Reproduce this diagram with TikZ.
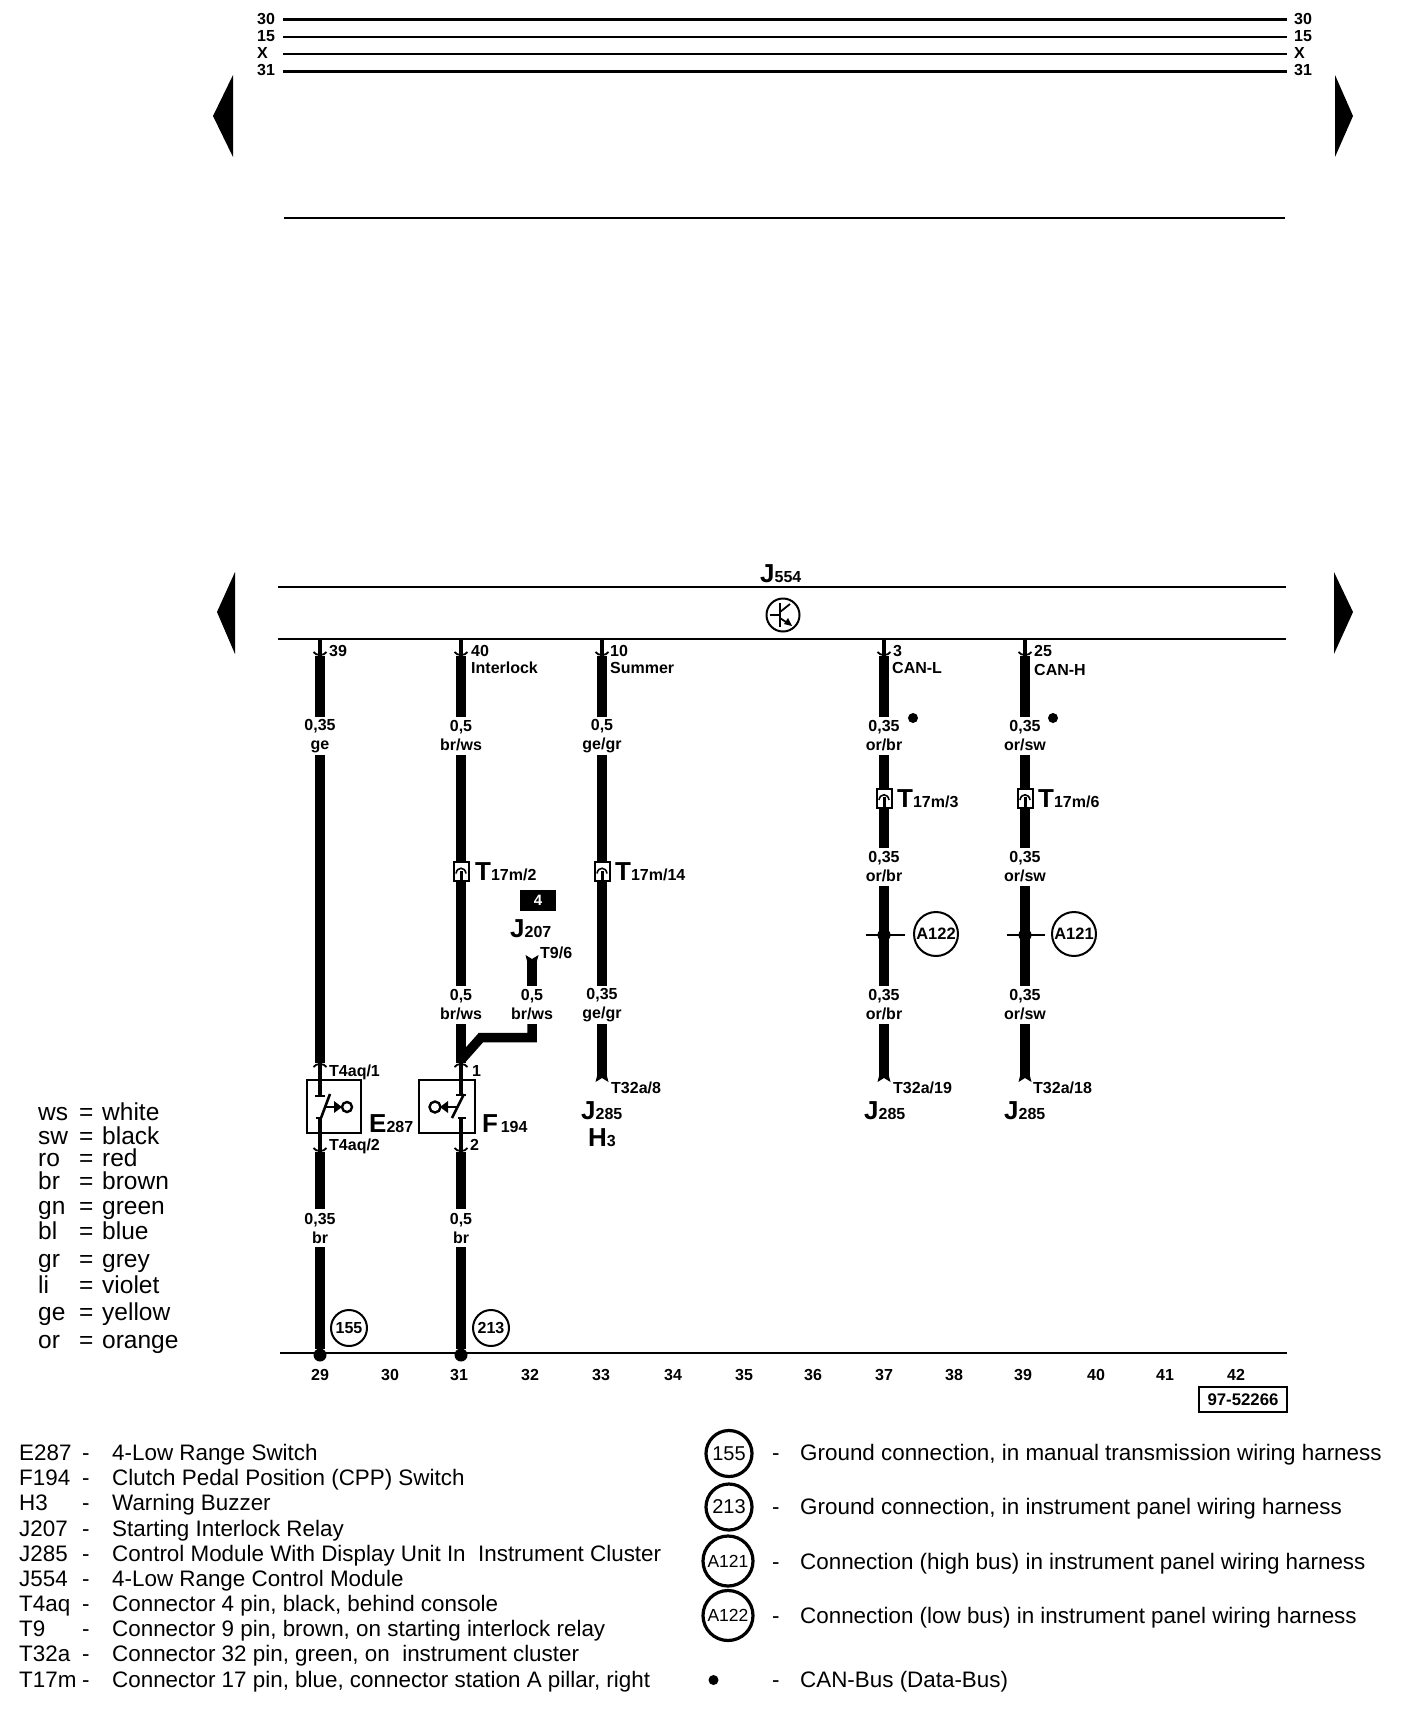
\documentclass[tikz,border=0pt]{standalone}
\usepackage{fontspec}
\setmainfont{Liberation Sans}
\newcommand{\desig}[2]{{\bfseries\fontsize{26}{26}\selectfont #1\fontsize{16}{16}\selectfont #2}}
\newcommand{\pinrod}[3]{%
    \draw[rod] (#1,#2) -- (#1,#3);
}
\newcommand{\cupdown}[2]{%
    \draw[line width=1.8pt] (#1-6.5,#2-4) .. controls (#1-4,#2) and (#1+4,#2) .. (#1+6.5,#2-4);
}
\newcommand{\cupup}[2]{%
    \draw[line width=1.8pt] (#1-6.5,#2+4) .. controls (#1-4,#2) and (#1+4,#2) .. (#1+6.5,#2+4);
}
\newcommand{\wirenotch}[3]{%
    \fill (#1-6.5,#2) -- (#1,#2+4*#3) -- (#1+6.5,#2) -- (#1+4.7,#2+7*#3) -- (#1-4.7,#2+7*#3) -- cycle;
}
\newcommand{\plugmark}[1]{%
    \draw[line width=3pt] (#1.south) -- ([yshift=1pt]#1.center);
    \draw[line width=1.6pt] ([xshift=-5pt,yshift=-2pt]#1.center) .. controls ([xshift=-4pt,yshift=5pt]#1.center) and ([xshift=4pt,yshift=5pt]#1.center) .. ([xshift=5pt,yshift=-2pt]#1.center);
}
\tikzset{
    wire/.style={line width=9.5pt},
    rod/.style={line width=3.6pt},
    rail/.style={line width=2.7pt},
    gauge/.style={inner sep=0,outer sep=0,minimum height=38pt,align=center,
        font=\bfseries\fontsize{16}{19}\selectfont},
    small/.style={inner sep=0,anchor=base west,font=\bfseries\fontsize{16}{16}\selectfont},
    desigtext/.style={inner sep=0,anchor=base west},
    plug/.style={draw,line width=2pt,fill=white,inner sep=0,outer sep=0,minimum width=15pt,minimum height=19pt},
    swbox/.style={draw,line width=2pt,inner sep=0,outer sep=0,minimum width=54pt,minimum height=53pt},
    ring/.style={circle,draw,line width=2pt,inner sep=0,outer sep=0,minimum size=36pt,
        font=\bfseries\fontsize{16}{16}\selectfont},
    bigring/.style={ring,minimum size=44pt},
    dot/.style={circle,fill,inner sep=0,outer sep=0,minimum size=13pt},
    legend/.style={inner sep=0,anchor=base west,font=\fontsize{22.4}{22.4}\selectfont},
    colkey/.style={inner sep=0,anchor=base west,font=\fontsize{24.5}{24.5}\selectfont},
    legring/.style={circle,draw,line width=3.2pt,inner sep=0,outer sep=0,minimum size=46pt,
        font=\fontsize{20}{20}\selectfont},
}
\begin{document}
\begin{tikzpicture}[x=1pt,y=-1pt]
    \useasboundingbox (0,0) rectangle (1408,1716);
    % supply rails
    \foreach \y/\w/\n in {19.5/3/30,36.7/2/15,53.7/2/X,71/3/31} {
        \node[small] (rl\n) at (257,\y+4.5) {\n};
        \node[small] (rr\n) at (1294,\y+4.5) {\n};
        \draw[line width=\w pt] (283,\y) -- (1287,\y);
    }
    \draw[line width=2pt] (284,218) -- (1285,218);
    \fill (233,75) -- (213,116) -- (233,157) -- cycle;
    \fill (1335,75) -- (1353,116) -- (1335,157) -- cycle;
    % module J554
    \node[desigtext] (J554) at (760,582) {\desig{J}{554}};
    \draw[rail] (278,587) -- (1286,587);
    \draw[rail] (278,639) -- (1286,639);
    \fill (235,572) -- (217,612) -- (235,654) -- cycle;
    \fill (1334,572) -- (1353,612) -- (1334,654) -- cycle;
    \node[circle,draw,line width=2pt,minimum size=33pt,inner sep=0] (modsym) at (783,615) {};
    \draw[line width=1.8pt] (780,603) -- (780,627);
    \draw[line width=1.8pt] (770,615) -- (780,615);
    \draw[line width=1.8pt] (780,612) -- (790,604);
    \draw[line width=1.8pt] (780,618) -- (789,624);
    \fill (792,626) -- (784,624) -- (788,618) -- cycle;
    % ground rail
    \draw[rail] (280,1353) -- (1287,1353);
    \foreach \x/\n in {320/29,390/30,459/31,530/32,601/33,673/34,744/35,813/36,884/37,954/38,1023/39,1096/40,1165/41,1236/42} {
        \node[inner sep=0,font=\bfseries\fontsize{16}{16}\selectfont] (n\n) at (\x,1375) {\n};
    }
    \node[draw,line width=2pt,inner sep=0,minimum width=88pt,minimum height=25pt,
        font=\bfseries\fontsize{16.8}{16.8}\selectfont] (refno) at (1243,1399.5) {97-52266};

    % wire 29
    \pinrod{320}{639}{656}
    \cupdown{320}{656}
    \coordinate (w29top) at (320,656);
    \node[gauge] (g29a) at (320,736) {0,35\\ge};
    \coordinate (sw29top) at (320,1063);
    \draw[wire] (w29top) -- (g29a);
    \draw[wire] (g29a) -- (sw29top);
    \cupup{320}{1063}
    \node[swbox] (E287box) at (333.5,1106.5) {};
    \pinrod{320}{1063}{1096}
    \draw[line width=2pt] (315,1096) -- (325,1096);
    \draw[line width=2.6pt] (330,1094) -- (321,1118);
    \draw[line width=2pt] (316,1118) -- (322,1118);
    \pinrod{320}{1118}{1152}
    \cupdown{320}{1152}
    \draw[line width=2.6pt] (326,1107) -- (336,1107);
    \fill (342,1107) -- (334,1101) -- (334,1113) -- cycle;
    \node[circle,draw,line width=2.4pt,minimum size=10pt,inner sep=0] (E287cam) at (347,1107) {};
    \coordinate (sw29bot) at (320,1152);
    \node[gauge] (g29b) at (320,1228) {0,35\\br};
    \node[dot] (gnd29) at (320,1355) {};
    \draw[wire] (sw29bot) -- (g29b);
    \draw[wire] (g29b) -- (gnd29);
    \node[small] (p39) at (329,656) {39};
    \node[small] (t4a) at (329,1076) {T4aq/1};
    \node[small] (t4b) at (329,1150) {T4aq/2};
    \node[desigtext] (E287) at (369,1132) {\desig{E}{287}};
    \node[ring] (r155) at (349,1328) {155};

    % wire 31
    \pinrod{461}{639}{656}
    \cupdown{461}{656}
    \coordinate (w31top) at (461,656);
    \node[gauge] (g31a) at (461,736) {0,5\\br/ws};
    \node[plug] (c31) at (461,871.5) {};
    \node[gauge] (g31b) at (461,1005) {0,5\\br/ws};
    \coordinate (sw31top) at (461,1063);
    \draw[wire] (w31top) -- (g31a);
    \draw[wire] (g31a) -- (c31);
    \draw[wire] (c31) -- (g31b);
    \draw[wire] (g31b) -- (sw31top);
    \plugmark{c31}
    \cupup{461}{1063}
    \node[swbox,minimum width=56pt] (F194box) at (447,1106.5) {};
    \pinrod{461}{1063}{1095}
    \draw[line width=2pt] (456,1095) -- (466,1095);
    \draw[line width=2.6pt] (464,1094) -- (452,1118);
    \draw[line width=2pt] (458,1118) -- (466,1118);
    \pinrod{461}{1118}{1152}
    \cupdown{461}{1152}
    \draw[line width=2.6pt] (457,1107) -- (446,1107);
    \fill (440,1107) -- (448,1101) -- (448,1113) -- cycle;
    \node[circle,draw,line width=2.4pt,minimum size=11pt,inner sep=0] (F194cam) at (435,1107) {};
    \coordinate (sw31bot) at (461,1152);
    \node[gauge] (g31c) at (461,1228) {0,5\\br};
    \node[dot] (gnd31) at (461,1355) {};
    \draw[wire] (sw31bot) -- (g31c);
    \draw[wire] (g31c) -- (gnd31);
    \node[small] (p40) at (471,656) {40};
    \node[small] (lint) at (471,673) {Interlock};
    \node[desigtext] (tc31) at (475,880) {\desig{T}{17m/2}};
    \node[small] (s1) at (472,1076) {1};
    \node[small] (s2) at (470,1150) {2};
    \node[desigtext] (F194) at (482,1132) {\desig{F}{\,194}};
    \node[ring] (r213) at (491,1328) {213};

    % branch to J207
    \node[fill,inner sep=0,minimum width=36pt,minimum height=21pt,text=white,
        font=\bfseries\fontsize{15}{15}\selectfont] (relayno) at (538,900.5) {4};
    \node[desigtext] (J207) at (510,937) {\desig{J}{207}};
    \wirenotch{532}{955}{1}
    \coordinate (stub) at (532,961);
    \node[gauge] (g32) at (532,1005) {0,5\\br/ws};
    \draw[wire] (stub) -- (g32);
    \coordinate (bend) at (532,1037.5);
    \coordinate (bendb) at (481,1037.5);
    \coordinate (bendc) at (461,1060);
    \draw[wire,line join=miter] (g32) -- (bend) -- (bendb) -- (bendc);
    \node[small] (t96) at (540,958.5) {T9/6};

    % wire 33
    \pinrod{602}{639}{656}
    \cupdown{602}{656}
    \coordinate (w33top) at (602,656);
    \node[gauge] (g33a) at (602,736) {0,5\\ge/gr};
    \node[plug] (c33) at (602,871.5) {};
    \node[gauge] (g33b) at (602,1005) {0,35\\ge/gr};
    \coordinate (w33bot) at (602,1076);
    \draw[wire] (w33top) -- (g33a);
    \draw[wire] (g33a) -- (c33);
    \draw[wire] (c33) -- (g33b);
    \draw[wire] (g33b) -- (w33bot);
    \plugmark{c33}
    \wirenotch{602}{1082}{-1}
    \node[small] (p10) at (610,656) {10};
    \node[small] (lsum) at (610,673) {Summer};
    \node[desigtext] (tc33) at (615,880) {\desig{T}{17m/14}};
    \node[small] (t8) at (611,1093) {T32a/8};
    \node[desigtext] (J285a) at (581,1119) {\desig{J}{285}};
    \node[desigtext] (H3) at (588,1146) {\desig{H}{3}};

    % wire 37
    \pinrod{884}{639}{656}
    \cupdown{884}{656}
    \coordinate (w37top) at (884,656);
    \node[gauge] (g37a) at (884,736) {0,35\\or/br};
    \node[plug] (c37) at (884,798) {};
    \node[gauge] (g37b) at (884,867) {0,35\\or/br};
    \node[gauge] (g37c) at (884,1005) {0,35\\or/br};
    \node[dot] (j37) at (884,935) {};
    \coordinate (w37bot) at (884,1076);
    \draw[wire] (w37top) -- (g37a);
    \draw[wire] (g37a) -- (c37);
    \draw[wire] (c37) -- (g37b);
    \draw[wire] (g37b) -- (g37c);
    \draw[wire] (g37c) -- (w37bot);
    \plugmark{c37}
    \wirenotch{884}{1082}{-1}
    \draw[line width=2pt] ([xshift=-18pt]j37.center) -- ([xshift=21pt]j37.center);
    \node[bigring,font=\bfseries\fontsize{16.5}{16.5}\selectfont] (A122) at (936,934) {A122};
    \node[circle,fill,inner sep=0,minimum size=10pt] (can37) at (913,718) {};
    \node[small] (p3) at (893,656) {3};
    \node[small] (lcanl) at (892,673) {CAN-L};
    \node[desigtext] (tc37) at (897,807) {\desig{T}{17m/3}};
    \node[small] (t19) at (893,1093) {T32a/19};
    \node[desigtext] (J285b) at (864,1119) {\desig{J}{285}};

    % wire 39
    \pinrod{1025}{639}{656}
    \cupdown{1025}{656}
    \coordinate (w39top) at (1025,656);
    \node[gauge] (g39a) at (1025,736) {0,35\\or/sw};
    \node[plug] (c39) at (1025,798) {};
    \node[gauge] (g39b) at (1025,867) {0,35\\or/sw};
    \node[gauge] (g39c) at (1025,1005) {0,35\\or/sw};
    \node[dot] (j39) at (1025,935) {};
    \coordinate (w39bot) at (1025,1076);
    \draw[wire] (w39top) -- (g39a);
    \draw[wire] (g39a) -- (c39);
    \draw[wire] (c39) -- (g39b);
    \draw[wire] (g39b) -- (g39c);
    \draw[wire] (g39c) -- (w39bot);
    \plugmark{c39}
    \wirenotch{1025}{1082}{-1}
    \draw[line width=2pt] ([xshift=-18pt]j39.center) -- ([xshift=20pt]j39.center);
    \node[bigring,font=\bfseries\fontsize{16.5}{16.5}\selectfont] (A121) at (1074,934) {A121};
    \node[circle,fill,inner sep=0,minimum size=10pt] (can39) at (1053,718) {};
    \node[small] (p25) at (1034,656) {25};
    \node[small] (lcanh) at (1034,675) {CAN-H};
    \node[desigtext] (tc39) at (1038,807) {\desig{T}{17m/6}};
    \node[small] (t18) at (1033,1093) {T32a/18};
    \node[desigtext] (J285c) at (1004,1119) {\desig{J}{285}};

    % colour codes
    \foreach \y/\c/\v in {1112/ws/white,1136/sw/black,1158/ro/red,1181/br/brown,1206/gn/green,
        1231/bl/blue,1259/gr/grey,1285/li/violet,1312/ge/yellow,1340/or/orange} {
        \node[colkey] (col\c) at (38,\y+8) {\c};
        \node[colkey] (eq\c) at (79,\y+8) {=};
        \node[colkey] (val\c) at (102,\y+8) {\v};
    }
    % component list
    \foreach \y/\c/\v in {1452.4/E287/4-Low Range Switch,
        1477.6/F194/Clutch Pedal Position (CPP) Switch,
        1502.8/H3/Warning Buzzer,
        1528/J207/Starting Interlock Relay,
        1553/J285/Control Module With Display Unit In\ \ Instrument Cluster,
        1578/J554/4-Low Range Control Module,
        1603.4/T4aq/{Connector 4 pin, black, behind console},
        1628.6/T9/{Connector 9 pin, brown, on starting interlock relay},
        1653.8/T32a/{Connector 32 pin, green, on\ \ instrument cluster},
        1679/T17m/{Connector 17 pin, blue, connector station A pillar, right}} {
        \node[legend] (code\c) at (19,\y+8) {\c};
        \node[legend] (dash\c) at (82,\y+8) {-};
        \node[legend] (text\c) at (112,\y+8) {\v};
    }
    % symbol list
    \node[legring] (k155) at (729,1453.5) {155};
    \node[legring] (k213) at (729,1507) {213};
    \node[legring,minimum size=50pt,font=\fontsize{17.5}{17.5}\selectfont] (k121) at (728,1561) {A121};
    \node[legring,minimum size=50pt,font=\fontsize{17.5}{17.5}\selectfont] (k122) at (728,1615.5) {A122};
    \node[circle,fill,inner sep=0,minimum size=10pt] (kdot) at (713.5,1680) {};
    \foreach \y/\n/\v in {1452.4/a/{Ground connection, in manual transmission wiring harness},
        1506/b/{Ground connection, in instrument panel wiring harness},
        1561/c/Connection (high bus) in instrument panel wiring harness,
        1615.5/d/Connection (low bus) in instrument panel wiring harness,
        1679/e/CAN-Bus (Data-Bus)} {
        \node[legend] (kd\n) at (772,\y+8) {-};
        \node[legend] (kt\n) at (800,\y+8) {\v};
    }
\end{tikzpicture}
\end{document}
